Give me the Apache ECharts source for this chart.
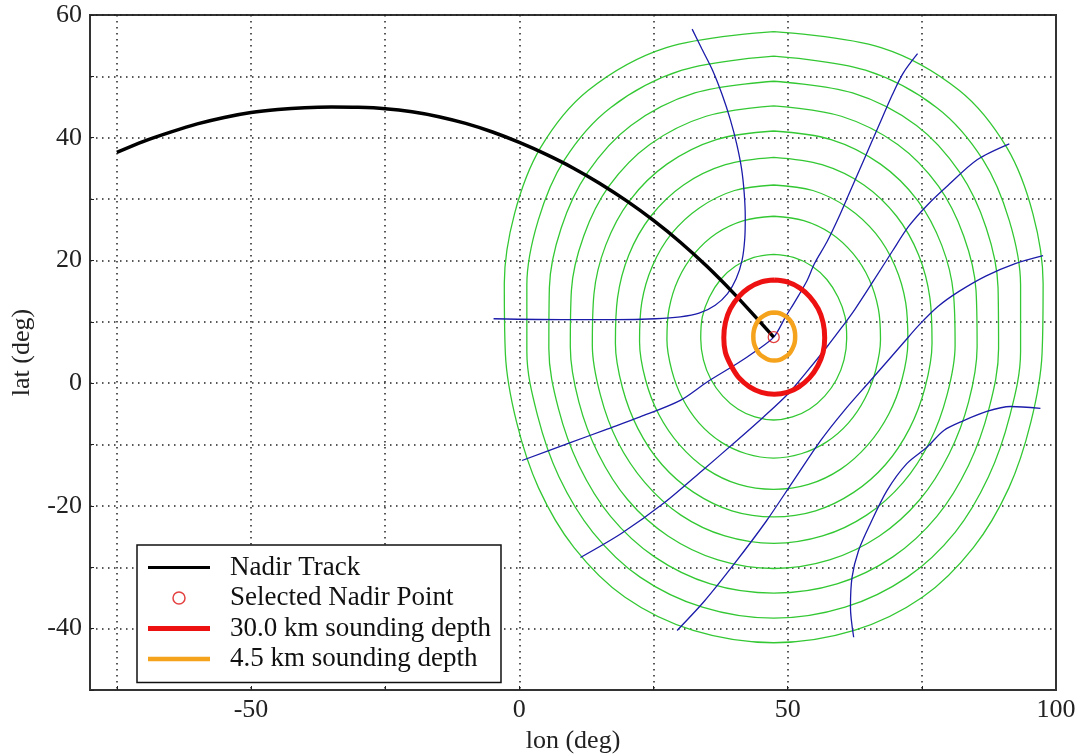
<!DOCTYPE html>
<html>
<head>
<meta charset="utf-8">
<script src="https://cdn.jsdelivr.net/npm/echarts@6/dist/echarts.min.js"></script>
<style>
html,body{margin:0;padding:0;background:#fff}
#main{width:1080px;height:754px}
</style>
</head>
<body>
<div id="main"></div>
<script>
// tick positions
var lonTicks = [-75, -50, -25, 0, 25, 50, 75];
var lonLabels = [-50, 0, 50, 100];

// nadir track [lon, lat]
var nadirTrack = [[-75,37.6],[-70,39.4],[-65,40.9],[-60,42.25],[-55,43.3],[-50,44.1],[-45,44.6],[-40,44.9],[-35,45.0],[-30,44.95],[-25,44.73],[-20,44.23],[-15,43.43],[-10,42.33],[-5,40.93],[0,39.23],[5,37.28],[10,35.08],[15,32.55],[20,29.7],[25,26.52],[30,22.97],[35,19.0],[40,14.6],[44,10.8],[47.4,7.5]];
var selectedPoint = [[47.4, 7.5]];

// sounding depth footprints
var depth30 = [[47.5,16.8],[49.9,16.5],[52.3,15.5],[54.1,14.1],[55.7,12.1],[56.6,9.9],[56.9,7.4],[56.6,5.0],[55.6,2.8],[54.1,0.9],[52.1,-0.6],[49.9,-1.5],[47.5,-1.8],[45.1,-1.5],[42.9,-0.6],[40.9,0.9],[39.5,2.8],[38.4,5.0],[38.1,7.4],[38.4,9.9],[39.3,12.1],[40.9,14.1],[42.7,15.5],[45.1,16.5],[47.5,16.8]];
var depth45 = [[47.5,11.5],[48.5,11.4],[49.4,11.0],[50.3,10.4],[50.9,9.6],[51.3,8.6],[51.4,7.6],[51.3,6.6],[50.9,5.65],[50.3,4.8],[49.4,4.2],[48.5,3.8],[47.5,3.7],[46.5,3.8],[45.6,4.2],[44.7,4.8],[44.1,5.65],[43.7,6.6],[43.6,7.6],[43.7,8.6],[44.1,9.6],[44.7,10.4],[45.6,11.0],[46.5,11.4],[47.5,11.5]];

// green range rings
var ring1 = [[47.4,21.0],[51.1,20.5],[54.5,19.1],[57.3,16.9],[59.4,14.0],[60.7,10.8],[61.0,7.3],[60.5,3.8],[59.1,0.6],[56.9,-2.1],[54.1,-4.2],[50.9,-5.5],[47.4,-6.0],[43.9,-5.5],[40.7,-4.2],[37.9,-2.1],[35.7,0.6],[34.3,3.8],[33.8,7.3],[34.1,10.8],[35.4,14.0],[37.5,16.9],[40.3,19.1],[43.7,20.5],[47.4,21.0]];
var ring2 = [[47.4,27.2],[53.0,26.5],[58.1,24.4],[62.2,21.1],[65.2,16.9],[66.9,12.1],[67.3,7.1],[66.4,2.1],[64.4,-2.5],[61.3,-6.5],[57.2,-9.6],[52.5,-11.5],[47.4,-12.2],[42.3,-11.5],[37.6,-9.6],[33.5,-6.5],[30.4,-2.5],[28.4,2.1],[27.5,7.1],[27.9,12.1],[29.6,16.9],[32.6,21.1],[36.7,24.4],[41.8,26.5],[47.4,27.2]];
var ring3 = [[47.4,32.3],[54.7,31.4],[61.2,28.6],[66.4,24.4],[70.0,19.1],[72.0,13.1],[72.4,6.8],[71.3,0.6],[68.8,-5.1],[64.9,-10.1],[59.9,-14.0],[53.9,-16.5],[47.4,-17.3],[40.9,-16.5],[34.9,-14.0],[29.9,-10.1],[26.0,-5.1],[23.5,0.6],[22.4,6.8],[22.8,13.1],[24.8,19.1],[28.4,24.4],[33.6,28.6],[40.1,31.4],[47.4,32.3]];
var ring4 = [[47.4,36.8],[56.4,35.6],[64.2,32.3],[70.3,27.2],[74.4,20.9],[76.5,13.9],[76.9,6.5],[75.6,-0.7],[72.7,-7.4],[68.2,-13.3],[62.3,-17.8],[55.2,-20.8],[47.4,-21.8],[39.6,-20.8],[32.5,-17.8],[26.6,-13.3],[22.1,-7.4],[19.2,-0.7],[17.9,6.5],[18.3,13.9],[20.4,20.9],[24.5,27.2],[30.6,32.3],[38.4,35.6],[47.4,36.8]];
var ring5 = [[47.4,41.1],[58.1,39.7],[67.3,35.7],[74.2,29.8],[78.7,22.5],[80.9,14.5],[81.2,6.2],[79.7,-1.9],[76.5,-9.5],[71.5,-16.2],[64.7,-21.5],[56.5,-24.9],[47.4,-26.1],[38.3,-24.9],[30.1,-21.5],[23.4,-16.2],[18.3,-9.5],[15.1,-1.9],[13.6,6.2],[13.9,14.5],[16.1,22.5],[20.6,29.8],[27.5,35.7],[36.7,39.7],[47.4,41.1]];
var ring6 = [[47.4,45.2],[60.0,43.5],[70.5,38.9],[78.1,32.1],[82.8,24.0],[85.1,15.1],[85.3,5.9],[83.7,-3.1],[80.1,-11.5],[74.6,-19.0],[67.1,-24.9],[57.8,-28.8],[47.4,-30.2],[37.0,-28.8],[27.7,-24.9],[20.2,-19.0],[14.7,-11.5],[11.1,-3.1],[9.5,5.9],[9.7,15.1],[12.0,24.0],[16.7,32.1],[24.3,38.9],[34.8,43.5],[47.4,45.2]];
var ring7 = [[47.4,49.2],[62.1,47.3],[74.0,42.0],[82.1,34.3],[87.0,25.3],[89.2,15.6],[89.3,5.6],[87.5,-4.2],[83.7,-13.4],[77.8,-21.7],[69.6,-28.3],[59.2,-32.7],[47.4,-34.2],[35.6,-32.7],[25.2,-28.3],[17.0,-21.7],[11.1,-13.4],[7.3,-4.2],[5.5,5.6],[5.6,15.6],[7.8,25.3],[12.7,34.3],[20.8,42.0],[32.7,47.3],[47.4,49.2]];
var ring8 = [[47.4,53.3],[64.5,51.0],[77.8,44.9],[86.4,36.4],[91.3,26.5],[93.4,16.0],[93.4,5.2],[91.4,-5.3],[87.4,-15.3],[81.2,-24.3],[72.3,-31.6],[60.7,-36.5],[47.4,-38.3],[34.1,-36.5],[22.5,-31.6],[13.7,-24.3],[7.4,-15.3],[3.4,-5.3],[1.4,5.2],[1.4,16.0],[3.5,26.5],[8.4,36.4],[17.0,44.9],[30.3,51.0],[47.4,53.3]];
var ring9 = [[47.4,57.3],[67.4,54.7],[82.0,47.7],[90.9,38.3],[95.7,27.6],[97.6,16.3],[97.4,4.8],[95.3,-6.4],[91.2,-17.1],[84.6,-26.8],[75.1,-34.9],[62.4,-40.3],[47.4,-42.3],[32.4,-40.3],[19.7,-34.9],[10.2,-26.8],[3.6,-17.1],[-0.5,-6.4],[-2.6,4.8],[-2.8,16.3],[-0.9,27.6],[3.9,38.3],[12.8,47.7],[27.4,54.7],[47.4,57.3]];

// blue lines
var blueA = [[32.2,57.7],[34,54.5],[36,51],[37.8,47],[39.3,43],[40.5,39],[41.4,35],[41.9,31],[42.1,27],[42,23.5],[41.5,20],[40.4,17],[38.8,14.6],[36.5,12.7],[33.5,11.4],[30,10.8],[25.4,10.5],[18,10.35],[9.1,10.35],[-4.8,10.5]];
var blueB = [[74.2,53.7],[71.5,50.5],[69.5,47],[67.5,43],[65.5,39],[63.5,35],[61.5,31],[59.5,27],[57.3,23],[55,19.5],[53.6,16.7],[51.5,13.5],[49.6,10.8],[47.4,7.5],[44,5.2],[40.6,3.2],[35,0.2],[30,-2.8],[22.5,-5.5],[16,-7.6],[9.5,-9.7],[0.5,-12.6]];
var blueC = [[91.3,39],[85.3,36.4],[79.6,32],[76,29],[72.5,25.5],[69.5,21.5],[66,16.7],[62.5,12],[60,9],[57.3,5.9],[53.5,1.8],[50,-1.8],[45.5,-5.5],[40.6,-9.3],[34,-14.3],[27,-19.5],[19,-24.5],[11.4,-28.4]];
var blueD = [[97.6,20.8],[92.4,19.5],[87,17.5],[82,15],[78,12.5],[74.5,9.5],[71.5,6.5],[68.5,3.5],[65.4,0.4],[60.5,-4.5],[56.1,-9.4],[51,-16],[46,-22.5],[40,-29.5],[34.5,-35.5],[29.4,-40.3]];
var blueE = [[97.1,-4.1],[91.5,-3.8],[87.1,-4.6],[82.8,-6.1],[79.1,-7.7],[76.0,-10.4],[72.2,-13.1],[68.5,-17.5],[65.4,-22.9],[63.2,-27.3],[62.0,-31.6],[61.7,-36.5],[62.3,-41.4]];

var serif = 'Liberation Serif';

var rings = [ring1, ring2, ring3, ring4, ring5, ring6, ring7, ring8, ring9];
var blues = [blueA, blueB, blueC, blueD, blueE];

var series = [];
rings.forEach(function (r) {
  series.push({type: 'line', data: r, smooth: 0.35, symbol: 'none', silent: true, z: 1,
    lineStyle: {color: '#33c833', width: 1.3}});
});
blues.forEach(function (b) {
  series.push({type: 'line', data: b, smooth: 0.3, symbol: 'none', silent: true, z: 2,
    lineStyle: {color: '#1c1caa', width: 1.3}});
});
series.push({name: 'Nadir Track', type: 'line', data: nadirTrack, smooth: 0.3, symbol: 'none', z: 3,
  lineStyle: {color: '#000', width: 3.5}, itemStyle: {color: '#000'}});
series.push({name: '30.0 km sounding depth', type: 'line', data: depth30, smooth: 0.35, symbol: 'none', z: 4,
  lineStyle: {color: '#ee1111', width: 5}, itemStyle: {color: '#ee1111'}});
series.push({name: '4.5 km sounding depth', type: 'line', data: depth45, smooth: 0.35, symbol: 'none', z: 5,
  lineStyle: {color: '#f5a21c', width: 4.5}, itemStyle: {color: '#f5a21c'}});
series.push({name: 'Selected Nadir Point', type: 'scatter', data: selectedPoint, symbol: 'circle', symbolSize: 11, z: 6,
  itemStyle: {color: 'transparent', borderColor: '#dd1111', borderWidth: 1.3}});

var chart = echarts.init(document.getElementById('main'));
chart.setOption({
  animation: false,
  backgroundColor: '#fff',
  grid: {left: 90, right: 24, top: 15, bottom: 64, show: true, borderColor: '#333', borderWidth: 2,
    containLabel: false, outerBoundsMode: 'none'},
  legend: {
    orient: 'vertical', left: 137, top: 545,
    backgroundColor: '#fff', borderColor: '#111', borderWidth: 1.5,
    padding: [9, 10, 10, 11],
    itemWidth: 62, itemHeight: 12, itemGap: 3.5,
    textStyle: {fontFamily: serif, fontSize: 27, color: '#111', padding: [0, 0, 0, 15]},
    data: [
      {name: 'Nadir Track', icon: 'path://M0,0H62V3H0Z', itemStyle: {color: '#000', borderWidth: 0}},
      {name: 'Selected Nadir Point', icon: 'circle', itemStyle: {color: '#fff', borderColor: '#dd1111', borderWidth: 1.5}},
      {name: '30.0 km sounding depth', icon: 'path://M0,0H62V5H0Z', itemStyle: {color: '#ee1111', borderWidth: 0}},
      {name: '4.5 km sounding depth', icon: 'path://M0,0H62V4.5H0Z', itemStyle: {color: '#f5a21c', borderWidth: 0}}
    ]
  },
  xAxis: {
    type: 'value', min: -80, max: 100,
    name: 'lon (deg)', nameLocation: 'middle', nameGap: 33,
    nameTextStyle: {fontFamily: serif, fontSize: 26, color: '#222'},
    axisLine: {onZero: false, lineStyle: {color: '#333', width: 2}},
    axisTick: {inside: true, length: 4, customValues: lonTicks, lineStyle: {color: '#222'}},
    axisLabel: {customValues: lonLabels, fontFamily: serif, fontSize: 26, color: '#222', margin: 7},
    splitLine: {show: true, lineStyle: {color: '#222', width: 1.5, type: [1.5, 4.5]}}
  },
  yAxis: {
    type: 'value', min: -50, max: 60, interval: 10,
    name: 'lat (deg)', nameLocation: 'middle', nameGap: 55, nameRotate: 90,
    nameTextStyle: {fontFamily: serif, fontSize: 26, color: '#222'},
    axisLine: {onZero: false, lineStyle: {color: '#333', width: 2}},
    axisTick: {inside: true, length: 4, lineStyle: {color: '#222'}},
    axisLabel: {fontFamily: serif, fontSize: 26, color: '#222', margin: 8,
      formatter: function (v) { return v % 20 === 0 ? String(v) : ''; }},
    splitLine: {show: true, lineStyle: {color: '#222', width: 1.5, type: [1.5, 4.5]}}
  },
  series: series
});
</script>
</body>
</html>
